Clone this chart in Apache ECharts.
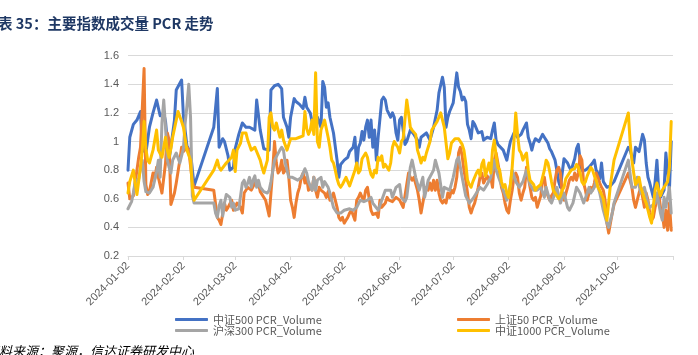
<!DOCTYPE html>
<html><head><meta charset="utf-8">
<script src="https://cdn.jsdelivr.net/npm/echarts@6/dist/echarts.min.js"></script>
<style>html,body{margin:0;padding:0;background:#fff}#c{width:698px;height:355px}</style>
</head><body><div id="c"></div>
<script>
// Each point: [day of year 2024 (Jan 1 = 1), PCR value]
const zz500Points = [[2,0.80],[3,1.03],[4,1.04],[5,1.12],[7,1.15],[9,1.21],[10,0.95],[12,0.92],[14,1.10],[16,1.20],[18,1.29],[20,1.18],[22,1.20],[23,1.14],[25,0.87],[28,1.15],[29,1.36],[30,1.35],[32,1.43],[33,1.18],[35,0.97],[37,0.92],[39,0.69],
[50,1.10],[52,1.37],[53,0.96],[55,1.02],[56,1.00],[58,0.90],[59,0.80],[61,0.82],[62,0.95],[64,1.05],[66,1.13],[68,1.10],[70,1.10],[73,1.08],[74,1.29],[76,1.08],[78,0.95],[81,0.94],[82,1.36],[84,1.39],[86,1.40],[88,1.37],[89,1.17],[91,1.10],[92,1.03],[93,1.17],[95,1.30],[96,1.28],[98,1.26],[100,1.23],[101,1.31],[102,1.24],[104,1.20],[105,1.14],[107,1.15],[108,1.17],[110,1.10],[111,1.42],[112,1.38],[113,1.24],[114,1.27],[115,1.17],[117,1.06],[119,0.87],[120,0.75],[121,0.84],[123,0.87],[125,0.89],[126,0.93],[128,0.96],[129,1.03],[130,0.82],[131,0.96],[132,0.99],[133,1.07],[134,1.01],[135,1.10],[136,1.15],[137,1.03],[138,1.15],[139,0.96],[140,1.08],[141,0.87],[142,1.03],[144,1.29],[145,1.31],[146,1.29],[147,1.22],[149,1.17],[150,1.20],[151,1.17],[152,1.06],[153,1.01],[154,1.15],[155,1.17],[156,1.08],[157,0.98],[158,1.00],[160,1.08],[162,1.05],[164,1.01],[165,0.96],[166,1.03],[169,1.06],[171,1.01],[173,1.10],[175,1.22],[176,1.34],[178,1.45],[179,1.38],[180,1.10],[181,1.17],[182,1.21],[183,1.24],[184,1.27],[186,1.48],[187,1.38],[188,1.35],[189,1.29],[190,1.31],[191,1.28],[192,1.12],[193,1.08],[194,1.02],[195,1.14],[196,1.12],[198,1.06],[200,1.07],[201,1.01],[203,1.03],[205,1.02],[206,1.08],[207,1.13],[208,1.01],[209,0.98],[210,0.99],[212,0.94],[214,0.87],[215,0.94],[216,1.00],[218,1.06],[220,1.03],[222,1.05],[223,1.08],[225,1.13],[226,1.03],[227,0.99],[228,0.94],[229,0.99],[230,1.02],[232,1.00],[234,1.05],[235,1.03],[236,1.01],[237,0.99],[238,0.95],[239,0.93],[240,0.92],[241,0.87],[242,0.80],[243,0.72],[244,0.68],[246,0.88],[247,0.89],[248,0.85],[249,0.82],[250,0.80],[251,0.84],[252,0.88],[253,0.95],[254,0.98],[255,0.87],[256,0.80],[257,0.79],[258,0.80],[260,0.82],[262,0.85],[263,0.87],[264,0.80],[265,0.78],[266,0.74],[267,0.85],[268,0.72],[269,0.70],[270,0.68],[272,0.69],[274,0.72],
[282,0.96],[283,0.94],[285,0.85],[286,0.96],[288,0.93],[290,1.05],[291,1.01],[292,0.85],[293,0.75],[294,0.71],[295,0.66],[296,0.61],[297,0.72],[298,0.87],[299,0.66],[300,0.61],[302,0.66],[303,0.92],[304,0.92],[305,0.66],[306,1.00]];

const sz50Points = [[2,0.71],[3,0.60],[5,0.62],[7,0.80],[8,0.89],[9,0.96],[11,1.51],[12,0.70],[13,0.63],[14,0.65],[16,0.78],[17,0.74],[18,0.82],[19,0.75],[21,0.64],[23,0.85],[24,1.06],[25,1.01],[26,0.56],[27,0.60],[28,0.64],[29,0.71],[31,0.87],[32,0.96],[33,0.93],[35,0.96],[36,0.94],[38,0.72],[39,0.68],
[50,0.66],[52,0.47],[53,0.45],[54,0.42],[56,0.57],[57,0.52],[58,0.54],[60,0.59],[61,0.52],[63,0.57],[65,0.54],[66,0.50],[67,0.64],[68,0.66],[69,0.68],[71,0.66],[73,0.71],[75,0.71],[76,0.65],[77,0.64],[79,0.59],[81,0.48],[82,0.64],[83,0.80],[84,1.00],[85,0.85],[86,0.78],[87,0.80],[88,0.87],[89,0.78],[90,0.80],[91,0.87],[92,0.75],[93,0.59],[94,0.54],[95,0.47],[96,0.57],[97,0.64],[98,0.68],[99,0.75],[100,0.78],[101,0.71],[102,0.75],[103,0.66],[104,0.68],[105,0.66],[106,0.75],[107,0.66],[108,0.61],[109,0.68],[110,0.66],[111,0.67],[112,0.64],[113,0.61],[114,0.65],[115,0.59],[116,0.61],[117,0.64],[118,0.59],[119,0.54],[120,0.47],[121,0.45],[122,0.47],[123,0.43],[124,0.45],[125,0.47],[126,0.50],[127,0.52],[128,0.51],[129,0.45],[130,0.59],[131,0.61],[132,0.64],[133,0.61],[134,0.59],[135,0.66],[136,0.68],[137,0.60],[138,0.52],[139,0.49],[140,0.48],[141,0.50],[142,0.47],[143,0.59],[144,0.54],[145,0.54],[146,0.57],[147,0.61],[148,0.59],[149,0.60],[150,0.58],[151,0.57],[152,0.61],[153,0.62],[154,0.59],[156,0.54],[157,0.62],[158,0.70],[159,0.78],[160,0.75],[161,0.73],[162,0.75],[163,0.75],[164,0.66],[165,0.59],[166,0.50],[167,0.57],[168,0.64],[169,0.68],[170,0.66],[171,0.71],[172,0.66],[173,0.73],[174,0.66],[175,0.73],[176,0.64],[177,0.59],[178,0.57],[179,0.59],[180,0.57],[181,0.64],[182,0.61],[183,0.66],[184,0.64],[185,0.68],[186,0.75],[187,0.92],[188,0.96],[189,0.90],[190,0.80],[191,0.73],[192,0.64],[193,0.54],[194,0.50],[195,0.54],[196,0.57],[197,0.62],[198,0.68],[199,0.75],[200,0.78],[201,0.71],[202,0.70],[203,0.76],[204,0.73],[205,0.75],[206,0.68],[207,0.87],[208,0.92],[209,0.85],[210,0.78],[211,0.68],[212,0.64],[213,0.57],[214,0.52],[215,0.50],[216,0.59],[217,0.66],[218,0.75],[219,0.78],[220,0.75],[221,0.64],[222,0.59],[223,0.64],[224,0.68],[225,0.82],[226,0.75],[227,0.68],[228,0.61],[229,0.59],[230,0.61],[231,0.54],[232,0.54],[233,0.62],[234,0.73],[235,0.75],[236,0.66],[237,0.62],[238,0.59],[239,0.62],[240,0.64],[241,0.73],[242,0.80],[243,0.82],[244,0.78],[245,0.64],[246,0.59],[247,0.60],[248,0.68],[249,0.73],[250,0.75],[251,0.73],[252,0.78],[253,0.73],[254,0.78],[255,0.90],[256,0.87],[257,0.71],[258,0.66],[259,0.59],[260,0.64],[261,0.68],[262,0.66],[263,0.71],[264,0.78],[265,0.75],[266,0.71],[267,0.68],[268,0.66],[269,0.59],[270,0.43],[271,0.36],[272,0.43],[273,0.50],[274,0.56],
[282,0.78],[284,0.68],[285,0.59],[286,0.54],[287,0.59],[288,0.64],[289,0.68],[290,0.61],[291,0.54],[292,0.64],[293,0.59],[294,0.50],[295,0.45],[296,0.47],[297,0.54],[298,0.59],[299,0.64],[300,0.54],[301,0.50],[302,0.40],[303,0.52],[304,0.38],[305,0.57],[306,0.38]];

const hs300Points = [[2,0.53],[4,0.58],[5,0.64],[6,0.72],[8,0.74],[9,0.82],[10,0.87],[11,0.72],[12,0.65],[14,0.64],[16,0.68],[18,0.79],[19,0.87],[20,0.75],[21,1.13],[22,1.29],[23,1.10],[24,0.87],[25,0.82],[26,0.78],[27,0.87],[29,0.92],[31,0.85],[33,0.95],[34,1.13],[35,1.25],[36,1.40],[37,1.17],[38,0.62],[39,0.57],
[50,0.57],[51,0.50],[52,0.47],[53,0.55],[54,0.59],[55,0.48],[56,0.57],[57,0.63],[58,0.64],[59,0.61],[60,0.54],[61,0.57],[62,0.52],[64,0.53],[65,0.52],[66,0.71],[67,0.73],[68,0.68],[69,0.71],[70,0.75],[71,0.68],[72,0.73],[73,0.76],[74,0.68],[75,0.73],[76,0.68],[77,0.68],[78,0.65],[80,0.64],[81,0.66],[82,0.72],[84,0.87],[85,0.87],[87,0.94],[88,0.96],[89,0.94],[90,0.85],[92,0.75],[94,0.75],[95,0.74],[97,0.73],[99,0.75],[101,0.81],[102,0.78],[103,0.72],[105,0.66],[106,0.75],[107,0.66],[108,0.73],[110,0.75],[111,0.68],[112,0.72],[114,0.68],[115,0.64],[117,0.54],[119,0.50],[121,0.50],[123,0.52],[126,0.53],[128,0.52],[130,0.54],[132,0.59],[134,0.58],[136,0.59],[138,0.61],[139,0.57],[142,0.52],[144,0.59],[146,0.66],[149,0.66],[150,0.61],[152,0.68],[154,0.70],[155,0.61],[157,0.58],[158,0.61],[160,0.82],[161,0.87],[163,0.75],[165,0.66],[167,0.75],[168,0.61],[170,0.73],[173,0.80],[174,0.87],[176,0.78],[178,0.61],[179,0.68],[182,0.66],[184,0.75],[186,0.87],[187,0.89],[189,0.75],[191,0.62],[193,0.57],[195,0.60],[197,0.64],[199,0.68],[201,0.66],[203,0.70],[205,0.75],[207,0.87],[208,0.80],[210,0.73],[212,0.66],[214,0.59],[216,0.70],[217,0.80],[219,0.72],[221,0.68],[223,0.72],[225,0.80],[227,0.70],[229,0.66],[231,0.66],[233,0.68],[235,0.61],[236,0.68],[238,0.59],[239,0.57],[241,0.64],[242,0.68],[244,0.57],[246,0.64],[248,0.54],[249,0.52],[251,0.57],[253,0.68],[255,0.64],[257,0.57],[259,0.64],[260,0.68],[261,0.64],[263,0.68],[264,0.73],[266,0.64],[268,0.52],[270,0.43],[271,0.40],[273,0.50],[274,0.57],
[282,0.87],[284,0.68],[286,0.68],[287,0.75],[289,0.64],[291,0.68],[293,0.57],[294,0.54],[297,0.57],[298,0.64],[300,0.50],[301,0.45],[302,0.61],[303,0.54],[305,0.68],[306,0.50]];

const zz1000Points = [[2,0.64],[3,0.72],[5,0.80],[6,0.71],[7,0.63],[9,0.82],[10,0.94],[11,1.14],[12,0.95],[13,0.87],[14,0.85],[16,0.94],[18,1.08],[19,0.94],[21,0.89],[23,1.03],[24,0.94],[25,0.89],[26,0.95],[27,1.03],[29,1.15],[30,1.21],[32,1.14],[33,1.10],[35,0.94],[37,0.87],[38,0.68],[39,0.59],
[50,0.80],[52,0.87],[53,0.82],[54,0.80],[57,0.85],[60,0.89],[61,0.94],[62,0.79],[63,0.94],[65,0.99],[66,1.06],[68,1.06],[69,1.01],[71,0.94],[73,0.96],[76,0.87],[77,0.82],[78,0.78],[80,0.87],[81,1.17],[82,1.20],[83,1.10],[84,1.08],[85,1.13],[87,1.03],[88,1.08],[89,1.01],[91,0.94],[93,1.02],[96,1.02],[98,1.03],[100,1.04],[101,1.21],[102,1.09],[103,1.05],[104,1.08],[105,1.15],[106,1.05],[107,1.48],[108,1.00],[109,0.96],[110,1.08],[112,1.15],[114,1.03],[115,0.96],[116,0.87],[117,0.85],[118,0.80],[119,0.74],[120,0.70],[121,0.68],[122,0.70],[124,0.75],[125,0.72],[126,0.69],[127,0.68],[129,0.80],[130,0.85],[131,0.78],[132,0.80],[133,0.88],[135,0.92],[136,0.89],[137,0.82],[138,0.77],[139,0.75],[140,0.80],[141,0.78],[142,0.89],[143,0.87],[144,0.90],[145,0.82],[146,0.84],[148,0.80],[149,0.85],[150,0.96],[151,1.00],[152,0.98],[153,0.96],[154,0.92],[155,1.00],[156,1.02],[157,1.01],[158,1.29],[159,1.20],[160,1.10],[161,1.08],[162,1.07],[163,1.05],[164,0.94],[165,0.90],[166,0.85],[167,0.89],[168,0.87],[169,0.92],[170,0.96],[171,1.00],[172,1.08],[173,1.10],[175,1.14],[176,1.17],[177,1.20],[178,1.21],[179,1.10],[180,0.99],[181,0.88],[182,0.92],[183,0.99],[184,1.00],[185,1.02],[187,1.02],[188,1.01],[189,0.98],[190,0.94],[191,0.85],[192,0.73],[193,0.70],[194,0.68],[195,0.72],[196,0.72],[197,0.78],[198,0.80],[199,0.76],[200,0.84],[201,0.87],[202,0.76],[203,0.80],[204,0.85],[205,0.78],[206,0.94],[207,1.01],[208,0.90],[209,0.82],[210,0.80],[211,0.72],[212,0.68],[213,0.70],[214,0.64],[215,0.61],[216,0.70],[217,0.82],[218,1.00],[219,1.20],[220,1.05],[221,0.94],[222,0.92],[223,0.87],[224,0.90],[225,0.92],[226,0.80],[227,0.73],[228,0.72],[229,0.70],[230,0.66],[231,0.68],[232,0.68],[233,0.70],[234,0.75],[235,0.80],[236,0.87],[237,0.85],[238,0.79],[239,0.72],[240,0.66],[241,0.65],[242,0.62],[243,0.60],[244,0.62],[245,0.66],[246,0.68],[247,0.74],[248,0.76],[249,0.78],[250,0.80],[252,0.81],[253,0.84],[254,0.82],[255,0.78],[256,0.72],[257,0.70],[258,0.72],[259,0.76],[260,0.79],[261,0.82],[262,0.80],[263,0.76],[264,0.73],[265,0.68],[266,0.66],[267,0.63],[268,0.60],[269,0.52],[270,0.45],[272,0.70],[274,0.87],
[282,1.20],[283,1.00],[284,0.87],[285,0.78],[286,0.70],[287,0.72],[288,0.75],[289,0.68],[290,0.64],[291,0.60],[292,0.57],[293,0.52],[294,0.47],[295,0.43],[296,0.55],[297,0.66],[298,0.71],[299,0.66],[300,0.62],[301,0.66],[302,0.68],[303,0.68],[304,0.72],[305,0.82],[306,1.14]];

const seriesNames = ['中证500 PCR_Volume', '上证50 PCR_Volume', '沪深300 PCR_Volume', '中证1000 PCR_Volume'];
const seriesColors = ['#4472C4', '#ED7D31', '#A5A5A5', '#FFC000'];
const xTickLabels = ['2024-01-02','2024-02-02','2024-03-02','2024-04-02','2024-05-02','2024-06-02','2024-07-02','2024-08-02','2024-09-02','2024-10-02'];
const xAxisEnd = '2024-11-02';
const yTicks = [0.2, 1.6, 0.2]; // min, max, step

const DAY = 86400000;
const base = Date.UTC(2024, 0, 1);
const toDoy = s => { const [y, m, d] = s.split('-').map(Number); return Math.round((Date.UTC(y, m - 1, d) - base) / DAY) + 1; };
const labelDays = xTickLabels.map(toDoy);
const tickDays = labelDays.concat([toDoy(xAxisEnd)]);
const dayToLabel = {};
labelDays.forEach((d, i) => { dayToLabel[d] = xTickLabels[i]; });

const allPoints = [zz500Points, sz50Points, hs300Points, zz1000Points];
const chart = echarts.init(document.getElementById('c'), null, { renderer: 'canvas' });
const txt = '#595959';
const legendText = { color: txt, fontSize: 11, lineHeight: 10, fontFamily: 'Noto Sans CJK SC' };
chart.setOption({
  animation: false,
  backgroundColor: '#fff',
  textStyle: { fontFamily: 'Liberation Sans, Noto Sans CJK SC, sans-serif' },
  grid: { left: 128, right: 25, top: 55.7, bottom: 99, containLabel: false },
  xAxis: {
    type: 'value', min: labelDays[0], max: toDoy(xAxisEnd),
    axisLine: { show: true, lineStyle: { color: '#d9d9d9', width: 1 } },
    axisTick: { show: true, customValues: tickDays, length: 4, lineStyle: { color: '#d9d9d9' } },
    axisLabel: { customValues: labelDays, formatter: v => dayToLabel[Math.round(v)] || '', rotate: 45, color: txt, fontSize: 11, margin: 8, showMinLabel: true, showMaxLabel: true },
    splitLine: { show: false }
  },
  yAxis: {
    type: 'value', min: yTicks[0], max: yTicks[1], interval: yTicks[2],
    axisLine: { show: false }, axisTick: { show: false },
    axisLabel: { color: txt, fontSize: 11, margin: 9, formatter: v => String(+v.toFixed(1)) },
    splitLine: { lineStyle: { color: '#d9d9d9', width: 1 } }
  },
  legend: [
    { left: 175, top: 314, padding: 0, orient: 'vertical', itemGap: 0, itemWidth: 33, itemHeight: 3, icon: 'roundRect',
      data: [seriesNames[0], seriesNames[2]], textStyle: legendText },
    { left: 457, top: 314, padding: 0, orient: 'vertical', itemGap: 0, itemWidth: 33, itemHeight: 3, icon: 'roundRect',
      data: [seriesNames[1], seriesNames[3]], textStyle: legendText }
  ],
  graphic: [
    { type: 'text', left: -2, top: 16, style: { text: '表 35：主要指数成交量 PCR 走势', fill: '#1f3864', font: 'bold 14.5px "Noto Sans CJK SC", sans-serif' } },
    { type: 'text', left: -14, top: 345, style: { text: '资料来源：聚源，信达证券研发中心', fill: '#000', font: 'italic 13px "Noto Sans CJK SC", sans-serif' } }
  ],
  series: allPoints.map((pts, i) => ({
    name: seriesNames[i], type: 'line', showSymbol: false, symbol: 'none',
    data: pts,
    lineStyle: { color: seriesColors[i], width: 3, join: 'round', cap: 'round' },
    itemStyle: { color: seriesColors[i] },
    z: 2 + i
  }))
});
</script></body></html>
